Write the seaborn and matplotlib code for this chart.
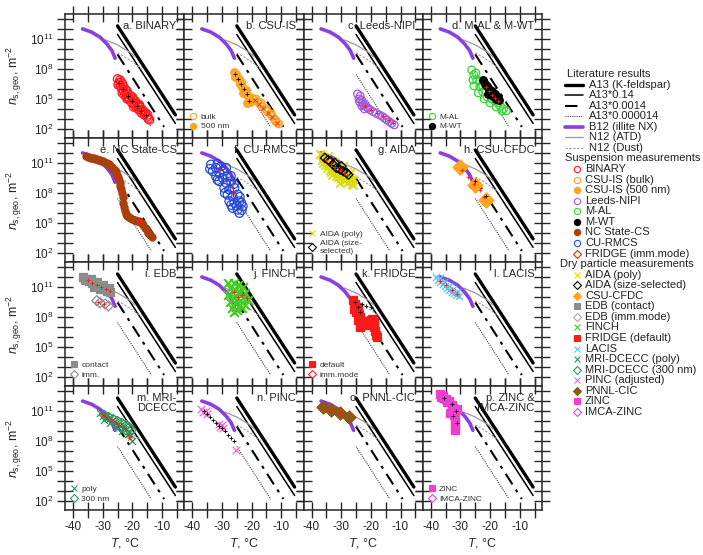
import numpy as np
import matplotlib
matplotlib.use("Agg")
import matplotlib.pyplot as plt
import seaborn as sns
from matplotlib.lines import Line2D
from matplotlib.ticker import FixedLocator, FuncFormatter, NullLocator

sns.set_style("ticks")
plt.rcParams["font.family"] = ["Liberation Sans", "DejaVu Sans"]
plt.rcParams["mathtext.fontset"] = "custom"
plt.rcParams["mathtext.rm"] = "Liberation Sans"
plt.rcParams["mathtext.it"] = "Liberation Sans:italic"
plt.rcParams["axes.unicode_minus"] = False

# ---- literature curves (T in degC, log10 ns) ----
A13_T = [-25.0, -5.5]
A13_LOG = [12.3, 3.4]
A13_014_T = [-25.0, -5.5]
A13_014_LOG = [11.45, 2.55]
A13_00014_T = [-25.0, -9.3]
A13_00014_LOG = [9.45, 2.2]
A13_0000014_T = [-25.0, -13.6]
A13_0000014_LOG = [7.45, 2.2]
B12_T = [-36.8, -33.7, -30.9, -28.6, -26.9, -25.8]
B12_LOG = [12.0, 11.67, 11.17, 10.5, 9.83, 9.07]
ATD_T = [-29.0, -25.0, -21.0, -19.0]
ATD_LOG = [10.9, 10.4, 9.7, 9.2]
DUST_T = [-25.0, -22.0, -19.5, -17.0]
DUST_LOG = [9.6, 9.1, 8.6, 8.0]

# ---- a. BINARY ----
BIN_T = [-25.0, -24.6, -24.2, -24.0, -23.6, -23.3, -23.0, -22.7, -22.3, -22.0, -21.5, -21.0, -20.6, -20.2,
         -19.8, -19.4, -19.0, -18.6, -18.2, -17.8, -17.4, -17.0, -16.5, -16.0, -15.5, -15.0, -14.2,
         -24.8, -23.8, -22.9, -21.8, -21.2, -20.0, -19.2, -18.0, -16.8, -15.8, -14.8, -14.6, -17.6,
         -19.6, -21.8, -23.4]
BIN_LOG = [7.0, 6.6, 6.9, 6.3, 6.0, 6.5, 5.8, 5.4, 5.9, 5.2, 5.5, 4.9, 5.3, 4.6,
           5.0, 4.4, 4.8, 4.1, 4.5, 3.9, 4.2, 3.6, 3.9, 3.4, 3.6, 3.2, 2.9,
           6.4, 6.7, 6.2, 5.8, 5.1, 5.2, 4.6, 4.2, 3.8, 3.6, 3.4, 3.0, 4.4,
           4.2, 5.0, 5.6]
BIN_AVG_T = [-24.5, -23.0, -21.5, -20.0, -18.5, -17.0, -15.5]
BIN_AVG_LOG = [6.6, 6.0, 5.3, 4.8, 4.3, 3.8, 3.4]

# ---- b. CSU-IS ----
CSU500_T = [-26.0, -25.4, -24.9, -24.3, -23.7, -23.2, -22.6, -22.0, -21.5, -21.0, -20.9, -21.5, -20.4, -25.6, -24.0, -22.8]
CSU500_LOG = [7.73, 7.5, 7.23, 7.0, 6.73, 6.23, 6.0, 5.9, 5.4, 5.2, 4.9, 4.57, 4.73, 7.2, 6.5, 5.6]
CSUBULK_T = [-19.8, -19.0, -18.1, -17.2, -16.4, -15.5, -14.7, -13.8, -13.0, -12.4, -11.9, -11.3, -10.8,
             -18.5, -16.8, -15.0, -13.4, -12.0]
CSUBULK_LOG = [5.07, 4.9, 4.73, 4.5, 4.23, 4.0, 3.73, 3.5, 3.23, 3.0, 2.73, 2.6, 2.5,
               5.0, 4.6, 4.0, 3.5, 2.9]
CSU_AVG1_T = [-25.5, -24.5, -23.5, -22.5, -21.5, -21.0]
CSU_AVG1_LOG = [7.5, 7.0, 6.5, 6.0, 5.5, 4.8]
CSU_AVG2_T = [-19.0, -17.5, -16.0, -14.5, -13.0, -11.5]
CSU_AVG2_LOG = [4.9, 4.5, 4.1, 3.6, 3.2, 2.6]

# ---- c. Leeds-NIPI ----
LEEDS_T = [-24.5, -24.0, -23.6, -23.1, -22.8, -22.5, -22.0, -21.5, -21.0, -20.2, -19.3, -18.2, -17.1, -16.2,
           -15.4, -14.6, -13.8, -13.0, -12.1, -23.8, -23.0, -22.2]
LEEDS_LOG = [5.5, 5.0, 5.3, 4.9, 4.6, 4.4, 4.5, 4.2, 4.07, 3.9, 3.73, 3.55, 3.4, 3.25,
             3.07, 2.9, 2.73, 2.55, 2.4, 4.7, 4.3, 4.0]
LEEDS_AVG_T = [-22.0, -20.0, -18.0, -16.0, -14.0, -12.5]
LEEDS_AVG_LOG = [4.3, 3.9, 3.6, 3.3, 2.9, 2.6]

# ---- d. M-AL & M-WT ----
MAL_T = [-26.2, -25.8, -25.5, -24.8, -24.5, -23.5, -23.5, -22.5, -22.5, -22.0, -21.5, -21.0, -20.5, -20.0,
         -19.5, -18.5, -17.5, -16.5, -15.5, -14.5, -25.5, -24.0, -22.0, -20.0, -18.0, -16.0]
MAL_LOG = [7.9, 6.9, 7.4, 7.6, 6.9, 6.8, 6.2, 6.3, 5.7, 6.7, 5.8, 5.2, 6.0, 5.4,
           5.0, 4.8, 4.6, 4.3, 4.0, 3.8, 6.3, 5.6, 5.0, 4.6, 4.2, 3.8]
MWT_T = [-22.5, -21.8, -21.0, -20.5, -20.0, -19.5, -19.0, -18.5, -18.0, -17.5, -17.0, -20.8]
MWT_LOG = [6.9, 6.5, 6.3, 6.0, 5.6, 5.8, 5.3, 5.5, 5.0, 5.2, 4.9, 5.5]
MWT_AVG_T = [-21.5, -20.5, -19.5, -18.5, -17.5]
MWT_AVG_LOG = [6.2, 5.8, 5.4, 5.1, 4.8]

# ---- e. NC State-CS ----
NCS_T = [-35.5, -35.0, -34.5, -34.0, -33.5, -33.0, -32.5, -32.0, -31.5, -31.0, -30.5, -30.0, -29.5, -29.0,
         -28.5, -28.0, -27.5, -27.0, -26.5, -26.0, -25.5, -25.2, -24.9, -24.6, -24.3, -24.1, -23.9, -23.6,
         -23.3, -23.0, -22.7, -22.4, -22.1, -21.8, -21.3, -20.8, -20.2, -19.6, -19.0, -18.4, -17.9, -17.4,
         -16.8, -16.3, -15.7, -15.2, -14.6, -14.0, -13.5]
NCS_LOG = [11.65, 11.55, 11.6, 11.5, 11.5, 11.45, 11.4, 11.35, 11.3, 11.3, 11.2, 11.15, 11.1, 11.0,
           10.95, 10.85, 10.7, 10.6, 10.4, 10.25, 10.05, 9.8, 9.55, 9.3, 9.0, 8.7, 8.4, 8.0,
           7.6, 7.0, 6.6, 6.2, 5.9, 5.7, 5.55, 5.45, 5.35, 5.3, 5.25, 5.2, 5.15, 5.1,
           5.0, 4.8, 4.5, 4.3, 4.0, 3.8, 3.6]
NCS_AVG_T = [-25.5, -24.5, -24.0, -19.0, -18.0, -17.0]
NCS_AVG_LOG = [9.6, 8.9, 8.2, 5.4, 5.3, 5.1]

# ---- f. CU-RMCS ----
CUR_T = [-33.7, -32.0, -30.3, -33.1, -30.9, -29.2, -32.0, -29.75, -28.1, -30.9, -28.6, -26.9, -29.2,
         -27.5, -25.8, -28.1, -26.4, -24.7, -27.5, -25.8, -24.1, -26.4, -24.7, -23.0, -24.1,
         -34.0, -31.5, -28.6, -31.5, -27.0, -26.0, -29.0, -24.0, -23.5, -25.0, -26.9, -23.3]
CUR_LOG = [10.83, 10.5, 10.67, 10.17, 10.0, 10.17, 9.67, 9.5, 9.67, 9.17, 9.0, 9.17, 8.5,
           8.33, 8.5, 7.83, 7.67, 7.83, 7.17, 7.0, 7.17, 6.5, 6.33, 6.67, 6.0,
           10.4, 10.9, 10.5, 9.3, 9.7, 8.9, 8.0, 7.6, 7.0, 6.7, 6.8, 6.3]
CUR_AVG_T = [-31.0, -29.0, -27.5, -26.5, -26.0, -25.5, -25.0]
CUR_AVG_LOG = [10.3, 9.8, 9.2, 8.6, 8.0, 7.4, 6.8]

# ---- g. AIDA ----
AIDAP_T = [-36.6, -35.5, -34.4, -36.1, -34.4, -33.2, -32.1, -33.8, -32.1, -31.0, -29.9, -31.6, -29.9,
           -28.7, -27.6, -28.2, -26.5, -25.9, -34.9, -33.2, -30.4, -36.6, -29.3, -27.0,
           -37.0, -36.0, -35.0, -34.0, -33.0, -32.5, -31.5, -30.5, -29.5, -28.5, -27.5, -26.5,
           -35.5, -33.5, -31.0, -29.0, -27.0, -28.0, -30.0, -32.5, -26.0]
AIDAP_LOG = [11.83, 11.5, 11.67, 11.0, 10.83, 11.17, 10.83, 10.33, 10.17, 10.5, 10.17, 9.67, 9.5,
             9.83, 9.5, 9.0, 9.17, 8.83, 10.5, 9.83, 9.0, 11.33, 10.67, 10.0,
             11.9, 11.6, 11.2, 11.0, 10.6, 10.4, 10.2, 9.9, 9.8, 9.4, 9.2, 8.9,
             10.8, 10.1, 9.6, 9.2, 9.6, 10.1, 10.6, 11.1, 9.4]
AIDAS_T = [-35.5, -33.8, -32.7, -31.6, -30.4, -29.3, -28.2, -27.6, -34.4, -32.1, -29.9]
AIDAS_LOG = [11.5, 11.17, 10.83, 10.5, 10.33, 10.17, 10.0, 9.83, 11.3, 11.0, 10.67]
AIDA_AVG_T = [-35.0, -33.5, -32.0, -30.5, -29.0, -28.0]
AIDA_AVG_LOG = [11.3, 10.9, 10.6, 10.3, 10.0, 9.8]

# ---- h. CSU-CFDC ----
CFDC_T = [-30.1, -25.1, -21.5]
CFDC_LOG = [10.57, 8.83, 7.33]
CFDC_AVG_T = [-29.5, -27.5, -25.5, -23.5, -22.0]
CFDC_AVG_LOG = [10.3, 9.6, 8.9, 8.3, 7.6]
CFDC_BLK_T = [-25.0, -21.3]
CFDC_BLK_LOG = [9.2, 7.7]

# ---- i. EDB ----
EDBC_T = [-36.5, -35.5, -34.5, -33.5, -32.5, -31.5, -30.5, -29.5, -28.5, -27.5, -36.0, -34.0, -32.0,
          -30.0, -28.0, -33.0, -31.0]
EDBC_LOG = [12.0, 11.8, 11.6, 11.4, 11.2, 11.1, 10.9, 10.8, 10.6, 10.5, 11.7, 11.8, 11.5,
            11.2, 10.9, 11.0, 10.8]
EDBI_T = [-32.0, -30.9, -29.2, -28.1]
EDBI_LOG = [9.63, 9.43, 9.3, 9.1]
EDB_AVG_T = [-35.0, -33.5, -32.0, -30.5, -29.0, -27.5, -31.5, -29.5]
EDB_AVG_LOG = [11.7, 11.4, 11.2, 11.0, 10.8, 10.6, 9.5, 9.3]

# ---- j. FINCH ----
FINCH_T = [-27.8, -26.1, -24.5, -22.8, -27.3, -25.6, -23.9, -22.2, -27.8, -26.1, -24.5, -22.8, -21.1,
           -27.3, -25.6, -23.9, -22.2, -26.7, -25.0, -23.3, -26.1]
FINCH_LOG = [11.37, 11.37, 11.2, 11.03, 10.87, 10.7, 10.53, 10.37, 10.2, 10.03, 9.87, 9.87, 9.7,
             9.53, 9.37, 9.2, 9.2, 8.87, 8.7, 8.87, 8.53]
FINCH_AVG_T = [-26.1, -24.5, -23.3, -21.6]
FINCH_AVG_LOG = [10.53, 10.03, 10.2, 9.87]

# ---- k. FRIDGE ----
FRD_T = [-26.0, -25.5, -25.8, -25.0, -24.5, -24.0, -23.5, -23.0, -22.5, -22.0, -21.5, -21.0, -20.5,
         -20.0, -19.5, -19.0, -18.8, -18.5, -18.2, -17.8, -23.8, -24.5]
FRD_LOG = [9.7, 9.3, 8.8, 8.5, 9.0, 8.3, 8.0, 7.6, 7.3, 7.6, 7.2, 7.4, 7.3,
           7.7, 7.8, 7.5, 7.0, 6.6, 6.2, 6.0, 7.0, 7.7]
FRD_AVG_T = [-25.5, -24.5, -23.5, -23.0, -21.5, -20.0]
FRD_AVG_LOG = [9.5, 9.0, 8.5, 9.3, 9.1, 9.0]

# ---- l. LACIS ----
LACIS_T = [-38.2, -37.5, -36.8, -36.0, -35.3, -34.5, -33.8, -33.0, -32.2, -31.5, -30.5, -37.0, -35.5,
           -34.0, -32.5, -31.0]
LACIS_LOG = [12.0, 11.7, 11.5, 11.3, 11.1, 10.9, 10.7, 10.5, 10.4, 10.2, 10.1, 11.9, 11.5,
             11.1, 10.8, 10.5]
LACIS_AVG_T = [-37.0, -35.0, -33.0, -31.0]
LACIS_AVG_LOG = [11.6, 11.2, 10.7, 10.3]

# ---- m. MRI-DCECC ----
MRIP_T = [-31.0, -30.0, -29.0, -28.0, -27.0, -26.0, -25.0, -24.0, -23.0, -22.0, -21.0, -20.5, -20.0,
          -21.5, -23.5, -25.5, -27.5, -29.5]
MRIP_LOG = [10.8, 10.5, 10.4, 10.2, 10.0, 9.9, 9.7, 9.5, 9.3, 9.2, 9.0, 8.6, 8.0,
            8.7, 9.0, 9.4, 9.8, 10.1]
MRID_T = [-29.5, -28.0, -26.5, -25.0, -23.5, -22.0, -21.0, -20.3, -24.0]
MRID_LOG = [10.6, 10.4, 10.2, 10.0, 9.8, 9.6, 9.4, 9.1, 9.4]
MRI_AVG_T = [-30.0, -28.5, -27.0, -25.5, -24.0, -22.5, -21.5, -20.8]
MRI_AVG_LOG = [10.6, 10.3, 10.1, 9.8, 9.6, 9.3, 8.6, 8.3]

# ---- n. PINC ----
PINC_T = [-37.0, -36.5, -35.5, -35.0, -31.0, -30.5, -30.0, -29.5, -25.3]
PINC_LOG = [11.2, 10.9, 11.0, 10.7, 9.7, 9.4, 9.6, 9.3, 7.1]
PINC_AVG_T = [-36.0, -35.0, -34.0, -33.0, -32.0, -31.0, -30.0, -29.0, -28.0, -27.0, -26.0]
PINC_AVG_LOG = [11.0, 10.7, 10.4, 10.1, 9.8, 9.5, 9.3, 9.0, 8.6, 8.3, 8.0]

# ---- o. PNNL-CIC ----
PNNL_T = [-36.0, -33.5, -30.5, -27.5]
PNNL_LOG = [11.4, 11.1, 10.8, 10.4]

# ---- p. ZINC ----
ZINC_T = [-37.0, -36.5, -35.8, -35.0, -34.5, -33.8, -33.0, -32.5, -32.0, -32.3, -32.0, -31.8, -32.0,
          -31.8, -33.5, -31.0]
ZINC_LOG = [12.7, 12.4, 12.5, 12.2, 11.9, 12.0, 11.6, 11.3, 11.0, 10.6, 10.2, 9.8, 9.4,
            9.1, 10.8, 11.2]
ZINC_AVG_T = [-35.5, -33.0, -31.5, -32.5, -31.0]
ZINC_AVG_LOG = [12.3, 11.7, 11.0, 10.5, 9.8]

TITLES = ["a. BINARY", "b. CSU-IS", "c. Leeds-NIPI", "d. M-AL & M-WT",
          "e. NC State-CS", "f. CU-RMCS", "g. AIDA", "h. CSU-CFDC",
          "i. EDB", "j. FINCH", "k. FRIDGE", "l. LACIS",
          "m. MRI-\nDCECC", "n. PINC", "o. PNNL-CIC", "p. ZINC &\nIMCA-ZINC"]

RED = "#ff1a1a"
ORANGE = "#ffa51f"
LEEDS_C = "#a259d9"
B12_C = "#8a3fe0"
GREEN = "#33d633"
BROWN = "#a8400c"
BLUE = "#2449d6"
YELLOW = "#dcdc10"
GRAY = "#8c8c8c"
FINCH_C = "#44cc22"
LACIS_C = "#55c3f0"
MRI_C = "#2a9a5e"
PINC_C = "#f06ad2"
PNNL_C = "#8d5a13"
MAGENTA = "#f23ed0"


def pts(ax, t, lg, marker, color, s=30, hollow=False, lw=0.9, z=3):
    kw = {}
    if marker not in ("x", "+"):
        kw = dict(edgecolor=color, facecolor="none" if hollow else color)
    sns.scatterplot(x=t, y=np.power(10.0, lg), marker=marker, color=color, s=s,
                    linewidth=lw, ax=ax, zorder=z, legend=False, **kw)


def avg(ax, t, lg, color="k", marker="+"):
    pts(ax, t, lg, marker, color, s=10, lw=0.6, z=4)


def curve(ax, t, lg, **kw):
    sns.lineplot(x=t, y=np.power(10.0, lg), ax=ax, sort=False, estimator=None, **kw)


def literature(ax):
    curve(ax, A13_T, A13_LOG, color="k", linewidth=2.4, zorder=2)
    curve(ax, A13_014_T, A13_014_LOG, color="k", linewidth=1.1, zorder=2)
    curve(ax, A13_00014_T, A13_00014_LOG, color="k", linewidth=1.5, linestyle=(0, (6, 3, 1.5, 3)), zorder=2)
    curve(ax, A13_0000014_T, A13_0000014_LOG, color="#444444", linewidth=0.8, linestyle=(0, (1, 1)), zorder=2)
    curve(ax, ATD_T, ATD_LOG, color="#9a9a9a", linewidth=0.9, zorder=2)
    curve(ax, DUST_T, DUST_LOG, color="#9a9a9a", linewidth=0.8, linestyle=(0, (2, 1.5)), zorder=2)
    curve(ax, B12_T, B12_LOG, color=B12_C, linewidth=2.6, zorder=2.5)


def mini_legend(ax, entries):
    handles = []
    for lab, mk, col, hollow in entries:
        handles.append(Line2D([], [], linestyle="none", marker=mk, markersize=4.5, markeredgewidth=0.8,
                              markerfacecolor="none" if hollow else col, markeredgecolor=col,
                              color=col, label=lab))
    ax.legend(handles=handles, loc="lower left", bbox_to_anchor=(0.04, 0.06), frameon=False,
              fontsize=6, handletextpad=0.4, labelspacing=0.2, handlelength=1.0, borderaxespad=0,
              borderpad=0, labelcolor="#333333")


fig, axes = plt.subplots(4, 4, sharex=True, sharey=True, figsize=(7.03, 5.55), dpi=100)
fig.subplots_adjust(left=0.0925, right=0.771, top=0.975, bottom=0.081, wspace=0, hspace=0)

for ax in axes.flat:
    ax.set_yscale("log")
    literature(ax)

a = axes.flat
pts(a[0], BIN_T, BIN_LOG, "o", RED, hollow=True, s=36)
avg(a[0], BIN_AVG_T, BIN_AVG_LOG)
pts(a[1], CSU500_T, CSU500_LOG, "o", ORANGE)
pts(a[1], CSUBULK_T, CSUBULK_LOG, "o", ORANGE, hollow=True)
avg(a[1], CSU_AVG1_T, CSU_AVG1_LOG)
avg(a[1], CSU_AVG2_T, CSU_AVG2_LOG, RED, "x")
pts(a[2], LEEDS_T, LEEDS_LOG, "o", LEEDS_C, hollow=True)
avg(a[2], LEEDS_AVG_T, LEEDS_AVG_LOG, RED)
pts(a[3], MAL_T, MAL_LOG, "o", GREEN, hollow=True)
pts(a[3], MWT_T, MWT_LOG, "o", "k")
avg(a[3], MWT_AVG_T, MWT_AVG_LOG, RED)
pts(a[4], NCS_T, NCS_LOG, "o", BROWN, s=26)
avg(a[4], NCS_AVG_T, NCS_AVG_LOG, RED)
pts(a[5], CUR_T, CUR_LOG, "o", BLUE, hollow=True, s=40)
avg(a[5], CUR_AVG_T, CUR_AVG_LOG, RED)
pts(a[6], AIDAP_T, AIDAP_LOG, "x", YELLOW, s=36, lw=1.3)
pts(a[6], AIDAS_T, AIDAS_LOG, "D", "k", hollow=True, s=22)
avg(a[6], AIDA_AVG_T, AIDA_AVG_LOG, RED)
pts(a[7], CFDC_T, CFDC_LOG, "D", ORANGE, s=60)
avg(a[7], CFDC_AVG_T, CFDC_AVG_LOG, RED)
avg(a[7], CFDC_BLK_T, CFDC_BLK_LOG)
pts(a[8], EDBC_T, EDBC_LOG, "s", GRAY, s=26)
pts(a[8], EDBI_T, EDBI_LOG, "D", GRAY, hollow=True, s=26)
avg(a[8], EDB_AVG_T, EDB_AVG_LOG, RED)
pts(a[9], FINCH_T, FINCH_LOG, "x", FINCH_C, s=40, lw=1.5)
avg(a[9], FINCH_AVG_T, FINCH_AVG_LOG, RED)
pts(a[10], FRD_T, FRD_LOG, "s", RED, s=26)
avg(a[10], FRD_AVG_T, FRD_AVG_LOG)
pts(a[11], LACIS_T, LACIS_LOG, "x", LACIS_C, s=26)
avg(a[11], LACIS_AVG_T, LACIS_AVG_LOG, RED)
pts(a[12], MRIP_T, MRIP_LOG, "x", MRI_C, s=26)
pts(a[12], MRID_T, MRID_LOG, "D", MRI_C, hollow=True, s=22)
avg(a[12], MRI_AVG_T, MRI_AVG_LOG, RED, "x")
pts(a[13], PINC_T, PINC_LOG, "x", PINC_C, s=30)
avg(a[13], PINC_AVG_T, PINC_AVG_LOG)
pts(a[14], PNNL_T, PNNL_LOG, "D", PNNL_C, s=45)
avg(a[14], PNNL_T, PNNL_LOG, RED)
pts(a[15], ZINC_T, ZINC_LOG, "s", MAGENTA, s=30)
avg(a[15], ZINC_AVG_T, ZINC_AVG_LOG)

mini_legend(a[1], [("bulk", "o", ORANGE, True), ("500 nm", "o", ORANGE, False)])
mini_legend(a[3], [("M-AL", "o", GREEN, True), ("M-WT", "o", "k", False)])
mini_legend(a[6], [("AIDA (poly)", "x", YELLOW, False), ("AIDA (size-\nselected)", "D", "k", True)])
mini_legend(a[8], [("contact", "s", GRAY, False), ("imm.", "D", GRAY, True)])
mini_legend(a[10], [("default", "s", RED, False), ("imm.mode", "D", RED, True)])
mini_legend(a[12], [("poly", "x", MRI_C, False), ("300 nm", "D", MRI_C, True)])
mini_legend(a[15], [("ZINC", "s", MAGENTA, False), ("IMCA-ZINC", "D", MAGENTA, True)])

ylab = FuncFormatter(lambda v, p: "$10^{%d}$" % round(np.log10(v))
                     if round(np.log10(v)) in (2, 5, 8, 11) else "")
for i, ax in enumerate(axes.flat):
    ax.set_xlim(-42.7, -2.5)
    ax.set_ylim(10 ** 1.1, 10 ** 13.5)
    ax.xaxis.set_major_locator(FixedLocator([-40, -30, -20, -10]))
    ax.xaxis.set_minor_locator(FixedLocator([-35, -25, -15, -5]))
    ax.yaxis.set_major_locator(FixedLocator([10.0 ** k for k in range(2, 14)]))
    ax.yaxis.set_minor_locator(NullLocator())
    ax.yaxis.set_major_formatter(ylab)
    ax.tick_params(which="both", direction="inout", length=12, width=1.0,
                   top=True, right=True, labelsize=8.5, pad=2)
    for sp in ax.spines.values():
        sp.set_linewidth(1.1)
    ax.text(0.935, 0.94, TITLES[i], transform=ax.transAxes, ha="right", va="top",
            fontsize=8, linespacing=1.0, zorder=6)
    ax.set_xlabel("")
    ax.set_ylabel("")
for ax in axes[:, 0]:
    ax.set_ylabel(r"$n_{\mathrm{s,geo}}$, m$^{-2}$", fontsize=9, labelpad=4)
for ax in axes[-1, :]:
    ax.set_xlabel(r"$T$, °C", fontsize=9, labelpad=2)

# ---- figure legend on the right ----
lax = fig.add_axes([0, 0, 1, 1], zorder=-1)
lax.set_xlim(0, 703)
lax.set_ylim(555, 0)
lax.axis("off")

ROWS = [
    ("head", "Literature results", 567),
    ("line", "A13 (K-feldspar)", dict(color="k", lw=2.4)),
    ("line", "A13*0.14", dict(color="k", lw=1.1)),
    ("line", "A13*0.0014", dict(color="k", lw=1.5, ls=(0, (6, 3, 1.5, 3)))),
    ("line", "A13*0.000014", dict(color="#444444", lw=0.8, ls=(0, (1, 1)))),
    ("line", "B12 (illite NX)", dict(color=B12_C, lw=2.6)),
    ("line", "N12 (ATD)", dict(color="#9a9a9a", lw=0.9)),
    ("line", "N12 (Dust)", dict(color="#9a9a9a", lw=0.8, ls=(0, (2, 1.5)))),
    ("head", "Suspension measurements", 565),
    ("mark", "BINARY", ("o", RED, True)),
    ("mark", "CSU-IS (bulk)", ("o", ORANGE, True)),
    ("mark", "CSU-IS (500 nm)", ("o", ORANGE, False)),
    ("mark", "Leeds-NIPI", ("o", LEEDS_C, True)),
    ("mark", "M-AL", ("o", GREEN, True)),
    ("mark", "M-WT", ("o", "k", False)),
    ("mark", "NC State-CS", ("o", BROWN, False)),
    ("mark", "CU-RMCS", ("o", BLUE, True)),
    ("mark", "FRIDGE (imm.mode)", ("D", RED, True)),
    ("head", "Dry particle measurements", 560),
    ("mark", "AIDA (poly)", ("x", YELLOW, False)),
    ("mark", "AIDA (size-selected)", ("D", "k", True)),
    ("mark", "CSU-CFDC", ("D", ORANGE, False)),
    ("mark", "EDB (contact)", ("s", GRAY, False)),
    ("mark", "EDB (imm.mode)", ("D", "#aaaaaa", True)),
    ("mark", "FINCH", ("x", FINCH_C, False)),
    ("mark", "FRIDGE (default)", ("s", RED, False)),
    ("mark", "LACIS", ("x", LACIS_C, False)),
    ("mark", "MRI-DCECC (poly)", ("x", MRI_C, False)),
    ("mark", "MRI-DCECC (300 nm)", ("D", MRI_C, True)),
    ("mark", "PINC (adjusted)", ("x", PINC_C, False)),
    ("mark", "PNNL-CIC", ("D", PNNL_C, False)),
    ("mark", "ZINC", ("s", MAGENTA, False)),
    ("mark", "IMCA-ZINC", ("D", MAGENTA, True)),
]
for i, (kind, label, spec) in enumerate(ROWS):
    y = 74 + 10.56 * i
    if kind == "head":
        lax.text(spec, y, label, va="center", ha="left", fontsize=8, color="#222222")
    elif kind == "line":
        lax.plot([565, 583], [y, y], **spec)
        lax.text(589, y, label, va="center", ha="left", fontsize=8, color="#222222")
    else:
        mk, col, hollow = spec
        lax.plot([577], [y], marker=mk, markersize=4.5, markeredgewidth=0.8, linestyle="none",
                 markerfacecolor="none" if hollow else col, markeredgecolor=col, color=col)
        lax.text(585, y, label, va="center", ha="left", fontsize=8, color="#222222")

fig.savefig("out.png", dpi=100)
